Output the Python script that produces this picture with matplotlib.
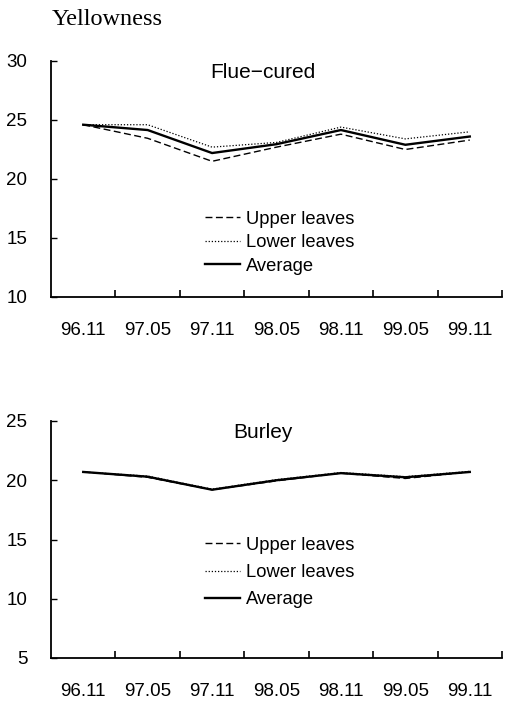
import matplotlib
matplotlib.use("Agg")
import matplotlib.pyplot as plt
import numpy as np

periods = ["96.11", "97.05", "97.11", "98.05", "98.11", "99.05", "99.11"]

flue_upper = [24.6, 23.45, 21.5, 22.7, 23.8, 22.5, 23.3]
flue_lower = [24.6, 24.6, 22.7, 23.1, 24.4, 23.4, 24.0]
flue_avg = [24.6, 24.15, 22.2, 22.95, 24.15, 22.9, 23.6]

burley_upper = [20.7, 20.25, 19.2, 19.95, 20.6, 20.15, 20.7]
burley_lower = [20.7, 20.35, 19.25, 20.05, 20.65, 20.3, 20.75]
burley_avg = [20.7, 20.3, 19.2, 20.0, 20.6, 20.25, 20.7]

plt.rcParams["font.family"] = ["Liberation Sans", "DejaVu Sans"]

fig = plt.figure(figsize=(5.07, 7.03), dpi=100)
fig.text(52 / 507, 1 - 25 / 703, "Yellowness", family="Liberation Serif",
         fontsize=17.5, ha="left", va="baseline")


def draw_panel(ax, upper, lower, avg, title, ylim, yticks, legend_y, spacing):
    x = np.arange(len(periods))
    ax.plot(x, upper, color="black", lw=1.0, ls=(0, (5, 2.5)), label="Upper leaves")
    ax.plot(x, lower, color="black", lw=0.9, ls=(0, (1, 1.5)), label="Lower leaves")
    ax.plot(x, avg, color="black", lw=1.7, label="Average")
    ax.set_xlim(-0.5, len(periods) - 0.5)
    ax.set_ylim(*ylim)
    ax.set_yticks(yticks)
    # ticks sit between the periods, labels centred under each point
    ax.set_xticks(np.arange(len(periods)) + 0.5)
    ax.set_xticklabels([])
    ax.set_xticks(x, minor=True)
    ax.set_xticklabels(periods, minor=True)
    ax.tick_params(axis="x", which="major", direction="in", length=5, width=1.2)
    ax.tick_params(axis="x", which="minor", length=0, pad=18, labelsize=13.5)
    ax.tick_params(axis="y", direction="in", length=4, width=1.0, pad=17, labelsize=13.5)
    for side in ("top", "right"):
        ax.spines[side].set_visible(False)
    for side in ("left", "bottom"):
        ax.spines[side].set_linewidth(1.3)
    ax.text(0.47, 0.95, title, transform=ax.transAxes, ha="center", va="center",
            fontsize=15)
    ax.legend(loc="upper left", bbox_to_anchor=(0.342, legend_y), frameon=False,
              fontsize=13.2, borderpad=0, borderaxespad=0, handlelength=1.9,
              handletextpad=0.3, labelspacing=spacing)


ax1 = fig.add_axes([51 / 507, 1 - 297 / 703, 451 / 507, 236 / 703])
draw_panel(ax1, flue_upper, flue_lower, flue_avg, "Flue\u2212cured",
           (10, 30), [10, 15, 20, 25, 30], 0.366, 0.36)

ax2 = fig.add_axes([51 / 507, 1 - 658 / 703, 451 / 507, 237 / 703])
draw_panel(ax2, burley_upper, burley_lower, burley_avg, "Burley",
           (5, 25), [5, 10, 15, 20, 25], 0.511, 0.55)

fig.savefig("out.png", dpi=100)
